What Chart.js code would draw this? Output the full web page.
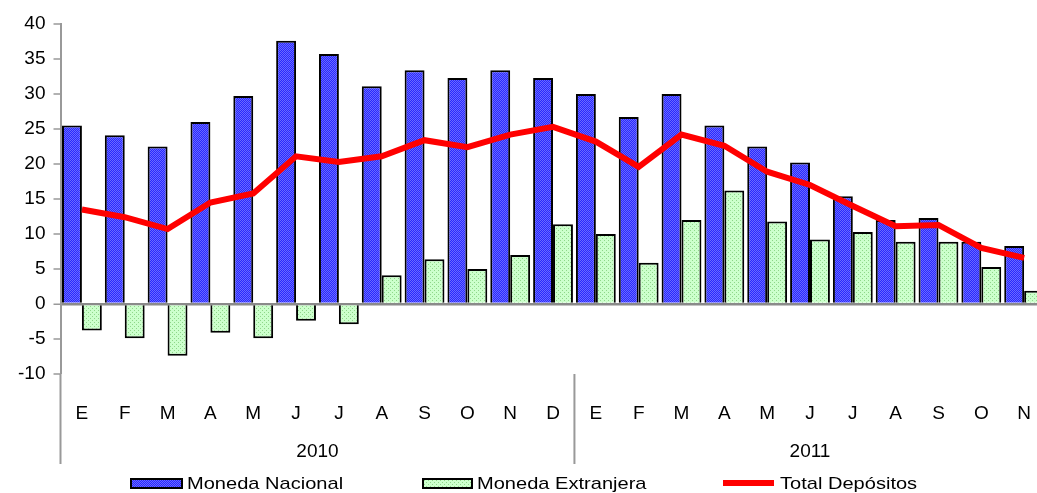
<!DOCTYPE html>
<html>
<head>
<meta charset="utf-8">
<script src="https://cdn.jsdelivr.net/npm/chart.js@4.4.1/dist/chart.umd.min.js"></script>
<style>
  html, body { margin: 0; padding: 0; background: #fff; overflow: hidden; }
  #wrap { position: relative; width: 1037px; height: 493px; overflow: hidden; }
  #chart { position: absolute; left: 0; top: 0; }
  .legend { position: absolute; top: 476px; height: 16px; font-family: "Liberation Sans", Arial, sans-serif; font-size: 17px; color: #000; }
  .legend .txt { position: absolute; top: -1px; white-space: nowrap; transform: scaleX(1.18); transform-origin: 0 50%; line-height: 17px; }
  .swatch { position: absolute; box-sizing: border-box; }
</style>
</head>
<body>
<div id="wrap">
  <canvas id="chart" width="1051" height="493"></canvas>
  <div class="legend" style="left:0;width:1037px;">
    <div class="swatch" id="swNac" style="left:130px;top:2px;width:53px;height:11px;border:2px solid #000;"></div>
    <div class="txt" style="left:187px;">Moneda Nacional</div>
    <div class="swatch" id="swExt" style="left:422px;top:2px;width:51px;height:11px;border:2px solid #000;"></div>
    <div class="txt" style="left:477px;">Moneda Extranjera</div>
    <div class="swatch" style="left:723px;top:4px;width:51px;height:6px;background:#ff0000;"></div>
    <div class="txt" style="left:780px;">Total Depósitos</div>
  </div>
</div>
<script>
  // Months (2010: E..D, 2011: E..N)
  const months = ['E', 'F', 'M', 'A', 'M', 'J', 'J', 'A', 'S', 'O', 'N', 'D',
                  'E', 'F', 'M', 'A', 'M', 'J', 'J', 'A', 'S', 'O', 'N'];
  const years = ['2010', '2011'];
  const monthsPerYear = [12, 11];

  const monedaNacional = [25.5, 24.1, 22.5, 26.0, 29.7, 37.6, 35.7, 31.1, 33.4, 32.3, 33.4, 32.3,
                          30.0, 26.7, 30.0, 25.5, 22.5, 20.2, 15.4, 12.0, 12.3, 8.9, 8.3];
  const monedaExtranjera = [-3.8, -4.9, -7.4, -4.1, -4.9, -2.4, -2.9, 4.1, 6.4, 5.0, 7.0, 11.4,
                            10.0, 5.9, 12.0, 16.2, 11.8, 9.2, 10.3, 8.9, 8.9, 5.3, 1.9];
  const totalDepositos = [13.5, 12.4, 10.7, 14.5, 15.8, 21.1, 20.3, 21.1, 23.4, 22.4, 24.2, 25.3,
                          23.2, 19.6, 24.2, 22.6, 18.9, 17.0, 14.0, 11.1, 11.3, 8.0, 6.6];

  const yTicks = [-10, -5, 0, 5, 10, 15, 20, 25, 30, 35, 40];

  const FONT = '"Liberation Sans", Arial, sans-serif';

  // dithered fills like the original spreadsheet chart
  function makePattern(base, dot, cells) {
    const c = document.createElement('canvas');
    c.width = 4; c.height = 4;
    const g = c.getContext('2d');
    g.fillStyle = base;
    g.fillRect(0, 0, 4, 4);
    g.fillStyle = dot;
    cells.forEach(p => g.fillRect(p[0], p[1], 1, 1));
    return c;
  }
  const blueTile = makePattern('#2828ff', '#6a6aff', [[0, 0], [2, 0], [1, 1], [3, 1], [0, 2], [2, 2], [1, 3], [3, 3]]);
  const greenTile = makePattern('#ccffcc', '#8fd68a', [[0, 0], [2, 2]]);

  const ctx = document.getElementById('chart').getContext('2d');
  const bluePattern = ctx.createPattern(blueTile, 'repeat');
  const greenPattern = ctx.createPattern(greenTile, 'repeat');

  document.getElementById('swNac').style.background = 'url(' + blueTile.toDataURL() + ')';
  document.getElementById('swExt').style.background = 'url(' + greenTile.toDataURL() + ')';

  // year labels, separator and lower part of the y axis line
  const yearAxisPlugin = {
    id: 'yearAxis',
    afterDraw(chart) {
      const c = chart.ctx;
      const x = chart.scales.x;
      const area = chart.chartArea;
      const lineBottom = 464;
      c.save();
      c.strokeStyle = '#999';
      c.lineWidth = 2;
      c.beginPath();
      c.moveTo(area.left, area.bottom);
      c.lineTo(area.left, lineBottom);
      let start = 0;
      const mids = [];
      monthsPerYear.forEach((n, i) => {
        const first = x.getPixelForValue(start);
        const last = x.getPixelForValue(start + n - 1);
        mids.push((first + last) / 2);
        if (i > 0) {
          const sep = (x.getPixelForValue(start - 1) + first) / 2;
          c.moveTo(sep, area.bottom);
          c.lineTo(sep, lineBottom);
        }
        start += n;
      });
      c.stroke();
      c.fillStyle = '#000';
      c.font = '19px ' + FONT;
      c.textAlign = 'center';
      c.textBaseline = 'middle';
      years.forEach((y, i) => c.fillText(y, mids[i], 452));
      c.restore();
    }
  };

  new Chart(ctx, {
    type: 'bar',
    data: {
      labels: months,
      datasets: [
        {
          type: 'line',
          label: 'Total Depósitos',
          data: totalDepositos,
          borderColor: '#ff0000',
          borderWidth: 6,
          pointRadius: 0,
          tension: 0,
          fill: false,
          order: 0
        },
        {
          label: 'Moneda Nacional',
          data: monedaNacional,
          backgroundColor: bluePattern,
          borderColor: '#000',
          borderWidth: 2,
          categoryPercentage: 0.93,
          barPercentage: 1.0,
          order: 1
        },
        {
          label: 'Moneda Extranjera',
          data: monedaExtranjera,
          backgroundColor: greenPattern,
          borderColor: '#000',
          borderWidth: 2,
          categoryPercentage: 0.93,
          barPercentage: 1.0,
          order: 1
        }
      ]
    },
    options: {
      responsive: false,
      animation: false,
      devicePixelRatio: 1,
      layout: { padding: { top: 24, right: 0, bottom: 0, left: 0 } },
      plugins: {
        legend: { display: false },
        tooltip: { enabled: false }
      },
      scales: {
        x: {
          offset: true,
          grid: { display: false },
          border: { display: false },
          ticks: {
            color: '#000',
            font: { family: FONT, size: 19 },
            padding: 20,
            maxRotation: 0,
            autoSkip: false
          },
          afterFit(scale) { scale.height = 119; }
        },
        y: {
          min: -10,
          max: 40,
          afterBuildTicks(scale) { scale.ticks = yTicks.map(v => ({ value: v })); },
          border: { color: '#999', width: 2 },
          grid: {
            color: c => (c.tick && c.tick.value === 0 ? '#8a8a8a' : 'rgba(0,0,0,0)'),
            lineWidth: c => (c.tick && c.tick.value === 0 ? 2.5 : 0),
            tickColor: '#999',
            tickWidth: 1.5,
            tickLength: 7
          },
          ticks: {
            color: '#000',
            font: { family: FONT, size: 19 },
            padding: 8
          },
          afterFit(scale) { scale.width = 60.5; }
        }
      }
    },
    plugins: [yearAxisPlugin]
  });
</script>
</body>
</html>
